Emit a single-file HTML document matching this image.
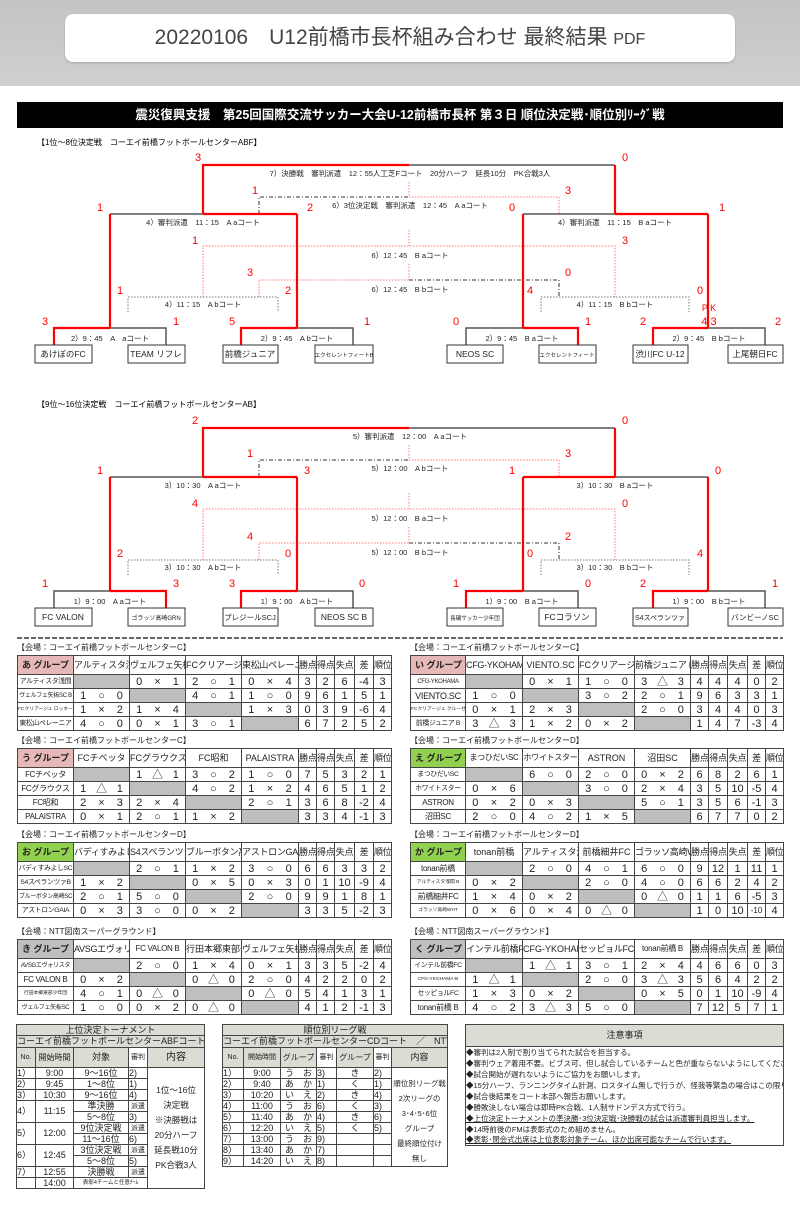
<!DOCTYPE html>
<html><head><meta charset="utf-8">
<style>
*{margin:0;padding:0;box-sizing:border-box}
body{width:800px;height:1214px;position:relative;background:#fff;font-family:"Liberation Sans","Noto Sans CJK JP",sans-serif;color:#222;overflow:hidden}
.band{position:absolute;left:0;top:0;width:800px;height:86px;background:linear-gradient(#c4c4c4,#cfcfcf)}
.card{position:absolute;left:65px;top:14px;width:670px;height:48px;background:#fff;border-radius:8px;text-align:center;line-height:48px;font-size:21px;color:#444;box-shadow:0 1px 2px rgba(0,0,0,.2)}
.card small{font-size:16px}
.bar{position:absolute;left:17px;top:102px;width:766px;height:26px;background:#000;color:#fff;font-weight:bold;font-size:12.5px;text-align:center;line-height:26px}
svg{position:absolute;left:0;top:0}
.lbl{position:absolute;font-size:8px;white-space:nowrap}
table.t{position:absolute;border-collapse:collapse;table-layout:fixed;font-size:11px}
table.t td{border:1px solid #444;height:14px;text-align:center;white-space:nowrap;overflow:hidden;padding:0;line-height:12px}
table.t tr.h td{height:19px;font-size:9px}
table.t td.n{font-size:6.8px;letter-spacing:-0.3px}
table.t td.xs{font-size:4.8px}
table.t td.st{font-size:6px;letter-spacing:-0.3px}
table.t td.g{background:#bfbfbf}
table.t td.gp{font-weight:bold;font-size:12px;text-align:left;padding-left:4px}
.pk{background:#e6b8b7}.gr{background:#92d050}.gy{background:#bfbfbf}
td.s i{display:inline-block;width:33.3%;text-align:center;font-style:normal}
table.b{position:absolute;border-collapse:collapse;table-layout:fixed;font-size:9px}
table.b td{border:1px solid #444;text-align:center;white-space:nowrap;overflow:hidden;padding:0;height:10px;line-height:9px}
table.b.one td{height:11px}
table.b td.hd{background:#dcdcd4}
table.b td.l{text-align:left}
</style></head><body>
<div class="band"></div>
<div class="card">20220106　U12前橋市長杯組み合わせ 最終結果 <small>PDF</small></div>
<div class="bar">震災復興支援　第25回国際交流サッカー大会U-12前橋市長杯 第３日 順位決定戦･順位別ﾘｰｸﾞ戦</div>

<svg width="800" height="1214" viewBox="0 0 800 1214" font-family="Liberation Sans, Noto Sans CJK JP, sans-serif">
<defs>
<g id="br">
 <g fill="none" stroke-width="1">
  <path d="M259 214V197H409" stroke="#333" stroke-dasharray="4,2,1,2"/>
  <path d="M409 197H559V214" stroke="#f77" stroke-dasharray="1.5,1.5"/>
  <path d="M409 182V197" stroke="#f77" stroke-dasharray="1.5,1.5"/>
  <path d="M203 297V246H615V297" stroke="#f77" stroke-dasharray="1.5,1.5"/>
  <path d="M409 230V246" stroke="#f77" stroke-dasharray="1.5,1.5"/>
  <path d="M259 297V280H409" stroke="#f77" stroke-dasharray="1.5,1.5"/>
  <path d="M409 280H559V297" stroke="#333" stroke-dasharray="4,2,1,2"/>
  <path d="M409 264V280" stroke="#f77" stroke-dasharray="1.5,1.5"/>
  <path d="M128 312V297H278V312" stroke="#777" stroke-dasharray="1.5,1.5"/>
  <path d="M541 312V297H689V312" stroke="#777" stroke-dasharray="1.5,1.5"/>
 </g>
 <g fill="none" stroke="#555" stroke-width="1.5">
  <path d="M409 165H615"/>
  <path d="M110 214H203"/>
  <path d="M523 214H708"/>
  <path d="M54 345V328H166V345"/>
  <path d="M241 345V328H353V345"/>
  <path d="M466 345V328H578V345"/>
  <path d="M653 345V328H765V345"/>
 </g>
 <g fill="none" stroke="#f00" stroke-width="2.2">
  <path d="M203 214V165H409"/>
  <path d="M615 165V214"/>
  <path d="M203 214H297"/>
  <path d="M110 214V328M297 214V328M523 214V328M708 214V328"/>
 </g>
</g>
</defs>

<text x="37" y="145" font-size="8">【1位～8位決定戦　コーエイ前橋フットボールセンターABF】</text>
<use href="#br"/>
<g fill="none" stroke="#f00" stroke-width="2.2">
 <path d="M615 214H708"/>
 <path d="M54 345V328H110"/>
 <path d="M241 345V328H297"/>
 <path d="M523 328H578V345"/>
 <path d="M653 345V328H708"/>
</g>
<g font-size="7.5" text-anchor="middle" fill="#222">
 <text x="410" y="176">7）決勝戦　審判派遣　12：55人工芝Fコート　20分ハーフ　延長10分　PK合戦3人</text>
 <text x="410" y="208">6）3位決定戦　審判派遣　12：45　A aコート</text>
 <text x="203" y="225">4）審判派遣　11：15　A aコート</text>
 <text x="615" y="225">4）審判派遣　11：15　B aコート</text>
 <text x="410" y="258">6）12：45　B aコート</text>
 <text x="410" y="292">6）12：45　B bコート</text>
 <text x="203" y="307">4）11：15　A bコート</text>
 <text x="615" y="307">4）11：15　B bコート</text>
 <text x="110" y="341">2）9：45　A　aコート</text>
 <text x="297" y="341">2）9：45　A bコート</text>
 <text x="522" y="341">2）9：45　B aコート</text>
 <text x="709" y="341">2）9：45　B bコート</text>
</g>
<g fill="#f00" font-size="11" text-anchor="middle">
 <text x="198" y="161">3</text><text x="625" y="161">0</text>
 <text x="255" y="194">1</text><text x="568" y="194">3</text>
 <text x="100" y="211">1</text><text x="310" y="211">2</text><text x="512" y="211">0</text><text x="722" y="211">1</text>
 <text x="195" y="244">1</text><text x="625" y="244">3</text>
 <text x="250" y="276">3</text><text x="568" y="276">0</text>
 <text x="120" y="294">1</text><text x="288" y="294">2</text><text x="530" y="294">4</text><text x="700" y="294">0</text>
 <text x="709" y="311" font-size="9">P K</text>
 <text x="45" y="325">3</text><text x="176" y="325">1</text><text x="232" y="325">5</text><text x="367" y="325">1</text>
 <text x="456" y="325">0</text><text x="588" y="325">1</text><text x="643" y="325">2</text><text x="709" y="325">4 3</text><text x="778" y="325">2</text>
</g>
<g fill="#fff" stroke="#333" stroke-width="1">
 <rect x="35" y="345" width="57" height="18"/><rect x="128" y="345" width="57" height="18"/>
 <rect x="223" y="345" width="55" height="18"/><rect x="315" y="345" width="58" height="18"/>
 <rect x="447" y="345" width="56" height="18"/><rect x="539" y="345" width="57" height="18"/>
 <rect x="633" y="345" width="55" height="18"/><rect x="728" y="345" width="55" height="18"/>
</g>
<g font-size="8.5" text-anchor="middle" fill="#222">
 <text x="63" y="357">あけぼのFC</text><text x="156" y="357">TEAM リフレ</text>
 <text x="250" y="357">前橋ジュニア</text><text x="344" y="357" font-size="5.5">エクセレントフィートB</text>
 <text x="475" y="357">NEOS SC</text><text x="567" y="357" font-size="5.5">エクセレントフィート</text>
 <text x="660" y="357">渋川FC U-12</text><text x="755" y="357">上尾朝日FC</text>
</g>

<text x="37" y="407" font-size="8">【9位～16位決定戦　コーエイ前橋フットボールセンターAB】</text>
<g transform="translate(0,263)"><use href="#br"/>
<g fill="none" stroke="#f00" stroke-width="2.2">
 <path d="M523 214H615"/>
 <path d="M110 328H166V345"/>
 <path d="M241 345V328H297"/>
 <path d="M466 345V328H523"/>
 <path d="M653 345V328H708"/>
</g></g>
<g font-size="7.5" text-anchor="middle" fill="#222">
 <text x="410" y="439">5）審判派遣　12：00　A aコート</text>
 <text x="410" y="471">5）12：00　A bコート</text>
 <text x="203" y="488">3）10：30　A aコート</text>
 <text x="615" y="488">3）10：30　B aコート</text>
 <text x="410" y="521">5）12：00　B aコート</text>
 <text x="410" y="555">5）12：00　B bコート</text>
 <text x="203" y="570">3）10：30　A bコート</text>
 <text x="615" y="570">3）10：30　B bコート</text>
 <text x="110" y="604">1）9：00　A aコート</text>
 <text x="297" y="604">1）9：00　A bコート</text>
 <text x="522" y="604">1）9：00　B aコート</text>
 <text x="709" y="604">1）9：00　B bコート</text>
</g>
<g fill="#f00" font-size="11" text-anchor="middle">
 <text x="195" y="424">2</text><text x="625" y="424">0</text>
 <text x="250" y="457">1</text><text x="568" y="457">3</text>
 <text x="100" y="474">1</text><text x="307" y="474">3</text><text x="512" y="474">1</text><text x="718" y="474">0</text>
 <text x="195" y="507">4</text><text x="625" y="507">0</text>
 <text x="250" y="540">4</text><text x="568" y="540">2</text>
 <text x="120" y="557">2</text><text x="288" y="557">0</text><text x="530" y="557">0</text><text x="700" y="557">4</text>
 <text x="45" y="587">1</text><text x="176" y="587">3</text><text x="232" y="587">3</text><text x="362" y="587">0</text>
 <text x="456" y="587">1</text><text x="588" y="587">0</text><text x="643" y="587">2</text><text x="775" y="587">1</text>
</g>
<g fill="#fff" stroke="#333" stroke-width="1">
 <rect x="35" y="608" width="57" height="18"/><rect x="128" y="608" width="57" height="18"/>
 <rect x="223" y="608" width="55" height="18"/><rect x="315" y="608" width="58" height="18"/>
 <rect x="447" y="608" width="56" height="18"/><rect x="539" y="608" width="57" height="18"/>
 <rect x="633" y="608" width="55" height="18"/><rect x="728" y="608" width="55" height="18"/>
</g>
<g font-size="8.5" text-anchor="middle" fill="#222">
 <text x="63" y="620">FC VALON</text><text x="156" y="620" font-size="6">ゴラッソ高崎GRN</text>
 <text x="250" y="620" font-size="7.5">プレジールSCJ</text><text x="344" y="620">NEOS SC B</text>
 <text x="475" y="620" font-size="5.5">長磯サッカー少年団</text><text x="567" y="620">FCコラソン</text>
 <text x="660" y="620" font-size="7">S4スペランツァ</text><text x="755" y="620" font-size="7.5">バンビーノSC</text>
</g>
<line x1="17" y1="638" x2="783" y2="638" stroke="#333" stroke-width="1.5" stroke-dasharray="5,2"/>
</svg>

<div class="lbl" style="left:17px;top:642px">【会場：コーエイ前橋フットボールセンターC】</div>
<div class="lbl" style="left:410px;top:642px">【会場：コーエイ前橋フットボールセンターC】</div>
<div class="lbl" style="left:17px;top:735px">【会場：コーエイ前橋フットボールセンターC】</div>
<div class="lbl" style="left:410px;top:735px">【会場：コーエイ前橋フットボールセンターD】</div>
<div class="lbl" style="left:17px;top:829px">【会場：コーエイ前橋フットボールセンターD】</div>
<div class="lbl" style="left:410px;top:829px">【会場：コーエイ前橋フットボールセンターD】</div>
<div class="lbl" style="left:17px;top:926px">【会場：NTT図南スーパーグラウンド】</div>
<div class="lbl" style="left:410px;top:926px">【会場：NTT図南スーパーグラウンド】</div>

<table class="t" style="left:17px;top:655px;width:374px">
<colgroup><col style="width:56px"><col style="width:56px"><col style="width:56px"><col style="width:56px"><col style="width:57px"><col style="width:18px"><col style="width:18px"><col style="width:20px"><col style="width:19px"><col style="width:18px"></colgroup>
<tr class="h"><td class="gp pk">あ グループ</td><td class="n">アルティスタ浅間</td><td class="st">ヴェルフェ矢板SC B</td><td class="xs">FCクリアージュ ロッキー</td><td class="n">東松山ペレーニア</td><td class="st">勝点</td><td class="st">得点</td><td class="st">失点</td><td class="st">差</td><td class="st">順位</td></tr>
<tr><td class="n">アルティスタ浅間</td><td class="g"></td><td class="s"><i>0</i><i>×</i><i>1</i></td><td class="s"><i>2</i><i>○</i><i>1</i></td><td class="s"><i>0</i><i>×</i><i>4</i></td><td>3</td><td>2</td><td>6</td><td>-4</td><td>3</td></tr>
<tr><td class="st">ヴェルフェ矢板SC B</td><td class="s"><i>1</i><i>○</i><i>0</i></td><td class="g"></td><td class="s"><i>4</i><i>○</i><i>1</i></td><td class="s"><i>1</i><i>○</i><i>0</i></td><td>9</td><td>6</td><td>1</td><td>5</td><td>1</td></tr>
<tr><td class="xs">FCクリアージュ ロッキー</td><td class="s"><i>1</i><i>×</i><i>2</i></td><td class="s"><i>1</i><i>×</i><i>4</i></td><td class="g"></td><td class="s"><i>1</i><i>×</i><i>3</i></td><td>0</td><td>3</td><td>9</td><td>-6</td><td>4</td></tr>
<tr><td class="n">東松山ペレーニア</td><td class="s"><i>4</i><i>○</i><i>0</i></td><td class="s"><i>0</i><i>×</i><i>1</i></td><td class="s"><i>3</i><i>○</i><i>1</i></td><td class="g"></td><td>6</td><td>7</td><td>2</td><td>5</td><td>2</td></tr>
</table>

<table class="t" style="left:410px;top:655px;width:373px">
<colgroup><col style="width:55px"><col style="width:57px"><col style="width:56px"><col style="width:56px"><col style="width:56px"><col style="width:18px"><col style="width:19px"><col style="width:20px"><col style="width:18px"><col style="width:18px"></colgroup>
<tr class="h"><td class="gp pk">い グループ</td><td class="st">CFG-YKOHAMA</td><td>VIENTO.SC</td><td class="xs">FCクリアージュ クルーゼ</td><td class="n">前橋ジュニア B</td><td class="st">勝点</td><td class="st">得点</td><td class="st">失点</td><td class="st">差</td><td class="st">順位</td></tr>
<tr><td class="st">CFG-YKOHAMA</td><td class="g"></td><td class="s"><i>0</i><i>×</i><i>1</i></td><td class="s"><i>1</i><i>○</i><i>0</i></td><td class="s"><i>3</i><i>△</i><i>3</i></td><td>4</td><td>4</td><td>4</td><td>0</td><td>2</td></tr>
<tr><td class="n" style="font-size:9px">VIENTO.SC</td><td class="s"><i>1</i><i>○</i><i>0</i></td><td class="g"></td><td class="s"><i>3</i><i>○</i><i>2</i></td><td class="s"><i>2</i><i>○</i><i>1</i></td><td>9</td><td>6</td><td>3</td><td>3</td><td>1</td></tr>
<tr><td class="xs">FCクリアージュ クルーゼ</td><td class="s"><i>0</i><i>×</i><i>1</i></td><td class="s"><i>2</i><i>×</i><i>3</i></td><td class="g"></td><td class="s"><i>2</i><i>○</i><i>0</i></td><td>3</td><td>4</td><td>4</td><td>0</td><td>3</td></tr>
<tr><td class="n">前橋ジュニア B</td><td class="s"><i>3</i><i>△</i><i>3</i></td><td class="s"><i>1</i><i>×</i><i>2</i></td><td class="s"><i>0</i><i>×</i><i>2</i></td><td class="g"></td><td>1</td><td>4</td><td>7</td><td>-3</td><td>4</td></tr>
</table>

<table class="t" style="left:17px;top:748px;width:374px">
<colgroup><col style="width:56px"><col style="width:56px"><col style="width:56px"><col style="width:56px"><col style="width:57px"><col style="width:18px"><col style="width:18px"><col style="width:20px"><col style="width:19px"><col style="width:18px"></colgroup>
<tr class="h"><td class="gp pk">う グループ</td><td>FCチベッタ</td><td>FCグラウクス</td><td>FC昭和</td><td>PALAISTRA</td><td class="st">勝点</td><td class="st">得点</td><td class="st">失点</td><td class="st">差</td><td class="st">順位</td></tr>
<tr><td class="n" style="font-size:8px">FCチベッタ</td><td class="g"></td><td class="s"><i>1</i><i>△</i><i>1</i></td><td class="s"><i>3</i><i>○</i><i>2</i></td><td class="s"><i>1</i><i>○</i><i>0</i></td><td>7</td><td>5</td><td>3</td><td>2</td><td>1</td></tr>
<tr><td class="n" style="font-size:8px">FCグラウクス</td><td class="s"><i>1</i><i>△</i><i>1</i></td><td class="g"></td><td class="s"><i>4</i><i>○</i><i>2</i></td><td class="s"><i>1</i><i>×</i><i>2</i></td><td>4</td><td>6</td><td>5</td><td>1</td><td>2</td></tr>
<tr><td class="n" style="font-size:8px">FC昭和</td><td class="s"><i>2</i><i>×</i><i>3</i></td><td class="s"><i>2</i><i>×</i><i>4</i></td><td class="g"></td><td class="s"><i>2</i><i>○</i><i>1</i></td><td>3</td><td>6</td><td>8</td><td>-2</td><td>4</td></tr>
<tr><td class="n" style="font-size:8px">PALAISTRA</td><td class="s"><i>0</i><i>×</i><i>1</i></td><td class="s"><i>2</i><i>○</i><i>1</i></td><td class="s"><i>1</i><i>×</i><i>2</i></td><td class="g"></td><td>3</td><td>3</td><td>4</td><td>-1</td><td>3</td></tr>
</table>

<table class="t" style="left:410px;top:748px;width:373px">
<colgroup><col style="width:55px"><col style="width:57px"><col style="width:56px"><col style="width:56px"><col style="width:56px"><col style="width:18px"><col style="width:19px"><col style="width:20px"><col style="width:18px"><col style="width:18px"></colgroup>
<tr class="h"><td class="gp gr">え グループ</td><td class="n" style="font-size:8px">まつひだいSC</td><td class="n" style="font-size:8px">ホワイトスター</td><td>ASTRON</td><td>沼田SC</td><td class="st">勝点</td><td class="st">得点</td><td class="st">失点</td><td class="st">差</td><td class="st">順位</td></tr>
<tr><td class="n">まつひだいSC</td><td class="g"></td><td class="s"><i>6</i><i>○</i><i>0</i></td><td class="s"><i>2</i><i>○</i><i>0</i></td><td class="s"><i>0</i><i>×</i><i>2</i></td><td>6</td><td>8</td><td>2</td><td>6</td><td>1</td></tr>
<tr><td class="n">ホワイトスター</td><td class="s"><i>0</i><i>×</i><i>6</i></td><td class="g"></td><td class="s"><i>3</i><i>○</i><i>0</i></td><td class="s"><i>2</i><i>×</i><i>4</i></td><td>3</td><td>5</td><td>10</td><td>-5</td><td>4</td></tr>
<tr><td class="n" style="font-size:8px">ASTRON</td><td class="s"><i>0</i><i>×</i><i>2</i></td><td class="s"><i>0</i><i>×</i><i>3</i></td><td class="g"></td><td class="s"><i>5</i><i>○</i><i>1</i></td><td>3</td><td>5</td><td>6</td><td>-1</td><td>3</td></tr>
<tr><td class="n" style="font-size:8px">沼田SC</td><td class="s"><i>2</i><i>○</i><i>0</i></td><td class="s"><i>4</i><i>○</i><i>2</i></td><td class="s"><i>1</i><i>×</i><i>5</i></td><td class="g"></td><td>6</td><td>7</td><td>7</td><td>0</td><td>2</td></tr>
</table>

<table class="t" style="left:17px;top:842px;width:374px">
<colgroup><col style="width:56px"><col style="width:56px"><col style="width:56px"><col style="width:56px"><col style="width:57px"><col style="width:18px"><col style="width:18px"><col style="width:20px"><col style="width:19px"><col style="width:18px"></colgroup>
<tr class="h"><td class="gp gr">お グループ</td><td class="n">バディすみよしSC</td><td class="n">S4スペランツァB</td><td class="st">ブルーボタン高崎SC</td><td class="n">アストロンGAIA</td><td class="st">勝点</td><td class="st">得点</td><td class="st">失点</td><td class="st">差</td><td class="st">順位</td></tr>
<tr><td class="n">バディすみよしSC</td><td class="g"></td><td class="s"><i>2</i><i>○</i><i>1</i></td><td class="s"><i>1</i><i>×</i><i>2</i></td><td class="s"><i>3</i><i>○</i><i>0</i></td><td>6</td><td>6</td><td>3</td><td>3</td><td>2</td></tr>
<tr><td class="n">S4スペランツァB</td><td class="s"><i>1</i><i>×</i><i>2</i></td><td class="g"></td><td class="s"><i>0</i><i>×</i><i>5</i></td><td class="s"><i>0</i><i>×</i><i>3</i></td><td>0</td><td>1</td><td>10</td><td>-9</td><td>4</td></tr>
<tr><td class="st">ブルーボタン高崎SC</td><td class="s"><i>2</i><i>○</i><i>1</i></td><td class="s"><i>5</i><i>○</i><i>0</i></td><td class="g"></td><td class="s"><i>2</i><i>○</i><i>0</i></td><td>9</td><td>9</td><td>1</td><td>8</td><td>1</td></tr>
<tr><td class="n">アストロンGAIA</td><td class="s"><i>0</i><i>×</i><i>3</i></td><td class="s"><i>3</i><i>○</i><i>0</i></td><td class="s"><i>0</i><i>×</i><i>2</i></td><td class="g"></td><td>3</td><td>3</td><td>5</td><td>-2</td><td>3</td></tr>
</table>

<table class="t" style="left:410px;top:842px;width:373px">
<colgroup><col style="width:55px"><col style="width:57px"><col style="width:56px"><col style="width:56px"><col style="width:56px"><col style="width:18px"><col style="width:19px"><col style="width:20px"><col style="width:18px"><col style="width:18px"></colgroup>
<tr class="h"><td class="gp gr">か グループ</td><td>tonan前橋</td><td class="xs">アルティスタ浅間 B</td><td>前橋細井FC</td><td class="st">ゴラッソ高崎WHT</td><td class="st">勝点</td><td class="st">得点</td><td class="st">失点</td><td class="st">差</td><td class="st">順位</td></tr>
<tr><td class="n" style="font-size:8px">tonan前橋</td><td class="g"></td><td class="s"><i>2</i><i>○</i><i>0</i></td><td class="s"><i>4</i><i>○</i><i>1</i></td><td class="s"><i>6</i><i>○</i><i>0</i></td><td>9</td><td>12</td><td>1</td><td>11</td><td>1</td></tr>
<tr><td class="xs">アルティスタ浅間 B</td><td class="s"><i>0</i><i>×</i><i>2</i></td><td class="g"></td><td class="s"><i>2</i><i>○</i><i>0</i></td><td class="s"><i>4</i><i>○</i><i>0</i></td><td>6</td><td>6</td><td>2</td><td>4</td><td>2</td></tr>
<tr><td class="n" style="font-size:8px">前橋細井FC</td><td class="s"><i>1</i><i>×</i><i>4</i></td><td class="s"><i>0</i><i>×</i><i>2</i></td><td class="g"></td><td class="s"><i>0</i><i>△</i><i>0</i></td><td>1</td><td>1</td><td>6</td><td>-5</td><td>3</td></tr>
<tr><td class="xs">ゴラッソ高崎WHT</td><td class="s"><i>0</i><i>×</i><i>6</i></td><td class="s"><i>0</i><i>×</i><i>4</i></td><td class="s"><i>0</i><i>△</i><i>0</i></td><td class="g"></td><td>1</td><td>0</td><td>10</td><td style="font-size:8px">-10</td><td>4</td></tr>
</table>

<table class="t" style="left:17px;top:939px;width:374px">
<colgroup><col style="width:56px"><col style="width:56px"><col style="width:56px"><col style="width:56px"><col style="width:57px"><col style="width:18px"><col style="width:18px"><col style="width:20px"><col style="width:19px"><col style="width:18px"></colgroup>
<tr class="h"><td class="gp gy">き グループ</td><td class="st">AVSGエヴォリスタ</td><td class="n" style="font-size:8px">FC VALON B</td><td class="xs">行田本郷東部少年団</td><td class="st">ヴェルフェ矢板SC</td><td class="st">勝点</td><td class="st">得点</td><td class="st">失点</td><td class="st">差</td><td class="st">順位</td></tr>
<tr><td class="st">AVSGエヴォリスタ</td><td class="g"></td><td class="s"><i>2</i><i>○</i><i>0</i></td><td class="s"><i>1</i><i>×</i><i>4</i></td><td class="s"><i>0</i><i>×</i><i>1</i></td><td>3</td><td>3</td><td>5</td><td>-2</td><td>4</td></tr>
<tr><td class="n" style="font-size:8px">FC VALON B</td><td class="s"><i>0</i><i>×</i><i>2</i></td><td class="g"></td><td class="s"><i>0</i><i>△</i><i>0</i></td><td class="s"><i>2</i><i>○</i><i>0</i></td><td>4</td><td>2</td><td>2</td><td>0</td><td>2</td></tr>
<tr><td class="xs">行田本郷東部少年団</td><td class="s"><i>4</i><i>○</i><i>1</i></td><td class="s"><i>0</i><i>△</i><i>0</i></td><td class="g"></td><td class="s"><i>0</i><i>△</i><i>0</i></td><td>5</td><td>4</td><td>1</td><td>3</td><td>1</td></tr>
<tr><td class="st">ヴェルフェ矢板SC</td><td class="s"><i>1</i><i>○</i><i>0</i></td><td class="s"><i>0</i><i>×</i><i>2</i></td><td class="s"><i>0</i><i>△</i><i>0</i></td><td class="g"></td><td>4</td><td>1</td><td>2</td><td>-1</td><td>3</td></tr>
</table>

<table class="t" style="left:410px;top:939px;width:373px">
<colgroup><col style="width:55px"><col style="width:57px"><col style="width:56px"><col style="width:56px"><col style="width:56px"><col style="width:18px"><col style="width:19px"><col style="width:20px"><col style="width:18px"><col style="width:18px"></colgroup>
<tr class="h"><td class="gp gy">く グループ</td><td class="n">インテル前橋FC</td><td class="xs">CFG-YKOHAMA-B</td><td class="n">セッピョルFC</td><td class="n" style="font-size:8px">tonan前橋 B</td><td class="st">勝点</td><td class="st">得点</td><td class="st">失点</td><td class="st">差</td><td class="st">順位</td></tr>
<tr><td class="n">インテル前橋FC</td><td class="g"></td><td class="s"><i>1</i><i>△</i><i>1</i></td><td class="s"><i>3</i><i>○</i><i>1</i></td><td class="s"><i>2</i><i>×</i><i>4</i></td><td>4</td><td>6</td><td>6</td><td>0</td><td>3</td></tr>
<tr><td class="xs">CFG-YKOHAMA-B</td><td class="s"><i>1</i><i>△</i><i>1</i></td><td class="g"></td><td class="s"><i>2</i><i>○</i><i>0</i></td><td class="s"><i>3</i><i>△</i><i>3</i></td><td>5</td><td>6</td><td>4</td><td>2</td><td>2</td></tr>
<tr><td class="n">セッピョルFC</td><td class="s"><i>1</i><i>×</i><i>3</i></td><td class="s"><i>0</i><i>×</i><i>2</i></td><td class="g"></td><td class="s"><i>0</i><i>×</i><i>5</i></td><td>0</td><td>1</td><td>10</td><td>-9</td><td>4</td></tr>
<tr><td class="n" style="font-size:8px">tonan前橋 B</td><td class="s"><i>4</i><i>○</i><i>2</i></td><td class="s"><i>3</i><i>△</i><i>3</i></td><td class="s"><i>5</i><i>○</i><i>0</i></td><td class="g"></td><td>7</td><td>12</td><td>5</td><td>7</td><td>1</td></tr>
</table>

<table class="b one" style="left:16px;top:1024px;width:188px">
<colgroup><col style="width:19px"><col style="width:38px"><col style="width:55px"><col style="width:19px"><col style="width:57px"></colgroup>
<tr><td class="hd" colspan="5" style="height:11px">上位決定トーナメント</td></tr>
<tr><td class="hd" colspan="5" style="height:12px">コーエイ前橋フットボールセンターABFコート</td></tr>
<tr><td class="hd" style="height:20px;font-size:7px">No.</td><td class="hd" style="font-size:8px">開始時間</td><td class="hd">対象</td><td style="font-size:7px">審判</td><td class="hd" style="font-size:10px">内容</td></tr>
<tr><td class="l">1）</td><td>9:00</td><td>9～16位</td><td class="l">2)</td><td rowspan="11" style="line-height:15px;font-size:8.5px">1位～16位<br>決定戦<br>※決勝戦は<br>20分ハーフ<br>延長戦10分<br>PK合戦3人</td></tr>
<tr><td class="l">2）</td><td>9:45</td><td>1～8位</td><td class="l">1)</td></tr>
<tr><td class="l">3）</td><td>10:30</td><td>9～16位</td><td class="l">4)</td></tr>
<tr><td class="l" rowspan="2">4）</td><td rowspan="2">11:15</td><td>準決勝</td><td style="font-size:7px">派遣</td></tr>
<tr><td>5～8位</td><td class="l">3)</td></tr>
<tr><td class="l" rowspan="2">5）</td><td rowspan="2">12:00</td><td>9位決定戦</td><td style="font-size:7px">派遣</td></tr>
<tr><td>11～16位</td><td class="l">6)</td></tr>
<tr><td class="l" rowspan="2">6）</td><td rowspan="2">12:45</td><td>3位決定戦</td><td style="font-size:7px">派遣</td></tr>
<tr><td>5～8位</td><td class="l">5)</td></tr>
<tr><td class="l">7）</td><td>12:55</td><td>決勝戦</td><td style="font-size:7px">派遣</td></tr>
<tr><td></td><td>14:00</td><td colspan="2" style="font-size:5.5px">表彰4チームと任意ﾁｰﾑ</td><td style="font-size:9px">表彰･閉会式</td></tr>
</table>

<table class="b" style="left:222px;top:1024px;width:225px">
<colgroup><col style="width:21px"><col style="width:37px"><col style="width:36px"><col style="width:20px"><col style="width:37px"><col style="width:18px"><col style="width:56px"></colgroup>
<tr><td class="hd" colspan="7" style="height:11px">順位別リーグ戦</td></tr>
<tr><td class="hd" colspan="7" style="height:12px">コーエイ前橋フットボールセンターCDコート　／　NTT図南SPG</td></tr>
<tr><td class="hd" style="height:20px;font-size:7px">No.</td><td class="hd" style="font-size:7px">開始時間</td><td class="hd" style="font-size:8px">グループ</td><td style="font-size:7px">審判</td><td class="hd" style="font-size:8px">グループ</td><td style="font-size:7px">審判</td><td class="hd">内容</td></tr>
<tr><td class="l" style="height:11px">1）</td><td>9:00</td><td>う　お</td><td class="l">3)</td><td>き</td><td class="l">2)</td><td rowspan="9" style="line-height:15px;font-size:7.5px;vertical-align:top;padding-top:8px">順位別リーグ戦<br>2次リーグの<br>3･4･5･6位<br>グループ<br>最終順位付け<br>無し</td></tr>
<tr><td class="l" style="height:11px">2）</td><td>9:40</td><td>あ　か</td><td class="l">1)</td><td>く</td><td class="l">1)</td></tr>
<tr><td class="l" style="height:11px">3）</td><td>10:20</td><td>い　え</td><td class="l">2)</td><td>き</td><td class="l">4)</td></tr>
<tr><td class="l" style="height:11px">4）</td><td>11:00</td><td>う　お</td><td class="l">6)</td><td>く</td><td class="l">3)</td></tr>
<tr><td class="l" style="height:11px">5）</td><td>11:40</td><td>あ　か</td><td class="l">4)</td><td>き</td><td class="l">6)</td></tr>
<tr><td class="l" style="height:11px">6）</td><td>12:20</td><td>い　え</td><td class="l">5)</td><td>く</td><td class="l">5)</td></tr>
<tr><td class="l" style="height:11px">7）</td><td>13:00</td><td>う　お</td><td class="l">9)</td><td></td><td></td></tr>
<tr><td class="l" style="height:11px">8）</td><td>13:40</td><td>あ　か</td><td class="l">7)</td><td></td><td></td></tr>
<tr><td class="l" style="height:11px">9）</td><td>14:20</td><td>い　え</td><td class="l">8)</td><td></td><td></td></tr>
</table>

<table class="b" style="left:465px;top:1024px;width:319px;font-size:7.5px">
<tr><td class="hd" style="height:22px;font-size:9px">注意事項</td></tr>
<tr><td style="border-top:1px solid #444;border-bottom:none;text-align:left;height:11px">◆審判は2人制で割り当てられた試合を担当する。</td></tr>
<tr><td style="border:none;border-left:1px solid #444;border-right:1px solid #444;text-align:left;height:11px">◆審判ウェア着用不要。ビブス可、但し試合しているチームと色が重ならないようにしてくださ</td></tr>
<tr><td style="border:none;border-left:1px solid #444;border-right:1px solid #444;text-align:left;height:11px">◆試合開始が遅れないようにご協力をお願いします。</td></tr>
<tr><td style="border:none;border-left:1px solid #444;border-right:1px solid #444;text-align:left;height:11px">◆15分ハーフ、ランニングタイム計測、ロスタイム無しで行うが、怪我等緊急の場合はこの限りではな</td></tr>
<tr><td style="border:none;border-left:1px solid #444;border-right:1px solid #444;text-align:left;height:11px">◆試合後結果をコート本部へ報告お願いします。</td></tr>
<tr><td style="border:none;border-left:1px solid #444;border-right:1px solid #444;text-align:left;height:11px">◆勝敗決しない場合は即時PK合戦、1人制サドンデス方式で行う。</td></tr>
<tr><td style="border:none;border-left:1px solid #444;border-right:1px solid #444;text-align:left;height:11px;text-decoration:underline">◆上位決定トーナメントの準決勝･3位決定戦･決勝戦の試合は派遣審判員担当します。</td></tr>
<tr><td style="border:none;border-left:1px solid #444;border-right:1px solid #444;text-align:left;height:11px">◆14時前後のFMは表彰式のため組めません。</td></tr>
<tr><td style="border-top:none;text-align:left;height:11px;text-decoration:underline">◆表彰･閉会式出席は上位表彰対象チーム、ほか出席可能なチームで行います。</td></tr>
</table>
</body></html>
